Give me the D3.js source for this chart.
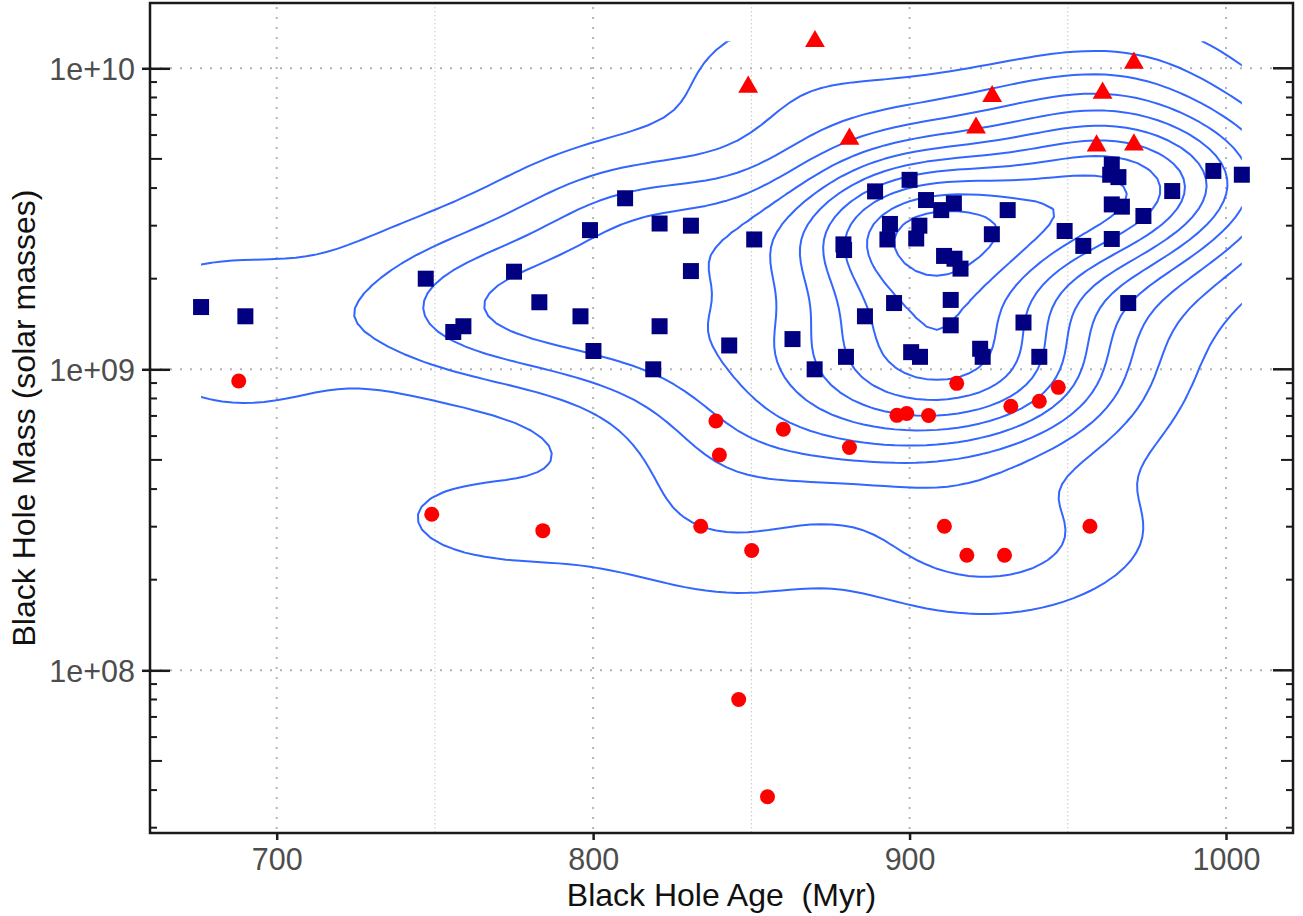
<!DOCTYPE html>
<html>
<head>
<meta charset="utf-8">
<script src="https://cdn.jsdelivr.net/npm/d3@7"></script>
<style>
body { margin: 0; background: #fff; }
text { font-family: "Liberation Sans", Arial, sans-serif; }
</style>
</head>
<body>
<div id="chart"></div>
<script>
var w = 1303;
var h = 916;

// navy squares
var squareAge  = [676.1, 690.1, 747.1, 755.8, 759.0, 775.0, 783.0, 796.0, 799.0, 800.1,
                  810.1, 821.0, 830.9, 830.9, 821.0, 819.0, 843.0, 850.9, 863.0, 870.0,
                  879.1, 879.3, 879.9, 885.9, 889.1, 893.8, 893.0, 895.1, 900.0, 900.5,
                  903.3, 903.1, 902.1, 905.2, 910.0, 914.0, 910.9, 914.2, 916.1, 913.0,
                  913.0, 922.3, 923.1, 926.0, 931.0, 936.0, 941.0, 949.0, 954.9, 963.9,
                  963.4, 966.0, 963.9, 967.1, 973.9, 963.9, 969.1, 983.0, 996.0, 1005.0];
var squareMass = [1.61e9, 1.50e9, 2.00e9, 1.33e9, 1.39e9, 2.11e9, 1.67e9, 1.50e9, 2.90e9, 1.15e9,
                  3.70e9, 3.05e9, 3.00e9, 2.12e9, 1.39e9, 1.00e9, 1.20e9, 2.70e9, 1.26e9, 1.00e9,
                  2.60e9, 2.49e9, 1.10e9, 1.50e9, 3.90e9, 3.04e9, 2.70e9, 1.66e9, 4.26e9, 1.14e9,
                  1.10e9, 3.00e9, 2.72e9, 3.65e9, 3.38e9, 3.56e9, 2.38e9, 2.33e9, 2.16e9, 1.70e9,
                  1.40e9, 1.17e9, 1.10e9, 2.81e9, 3.38e9, 1.43e9, 1.10e9, 2.88e9, 2.57e9, 4.79e9,
                  4.43e9, 4.35e9, 3.53e9, 3.47e9, 3.23e9, 2.71e9, 1.66e9, 3.91e9, 4.56e9, 4.43e9];

// red circles
var circleAge  = [688.0, 749.0, 784.1, 834.0, 850.1, 846.0, 855.1, 838.8, 839.9, 860.1, 881.0,
                  896.0, 899.1, 906.0, 914.9, 932.0, 941.0, 947.0, 911.0, 918.1, 930.0, 957.0];
var circleMass = [9.14e8, 3.30e8, 2.91e8, 3.01e8, 2.50e8, 8.0e7, 3.80e7, 6.73e8, 5.19e8, 6.32e8, 5.50e8,
                  7.03e8, 7.13e8, 7.02e8, 8.98e8, 7.54e8, 7.83e8, 8.71e8, 3.01e8, 2.41e8, 2.41e8, 3.01e8];

// red triangles
var triangleAge  = [870.1, 849.0, 881.0, 926.1, 921.0, 961.0, 970.9, 959.1, 970.9];
var triangleMass = [1.229e10, 8.67e9, 5.82e9, 8.07e9, 6.34e9, 8.28e9, 1.041e10, 5.53e9, 5.57e9];

var xTicks = [700, 800, 900, 1000];
var yTicks = [1e8, 1e9, 1e10];
var yTickLabels = ["1e+08", "1e+09", "1e+10"];
var xMinorGrid = [750, 850, 950];

var plotLeft = 150, plotRight = 1293, plotTop = 3, plotBottom = 833;

var xScale = d3.scaleLinear()
    .domain([659.96, 1021.17])
    .range([plotLeft, plotRight]);

var yScale = d3.scaleLog()
    .domain([Math.pow(10, 7.4595), Math.pow(10, 10.2169)])
    .range([plotBottom, plotTop]);

var svg = d3.select("#chart")
    .append("svg")
    .attr("width", w)
    .attr("height", h);

// grid
svg.append("g").selectAll("line")
    .data(xMinorGrid)
    .enter()
    .append("line")
    .attr("x1", function(d) { return xScale(d); })
    .attr("x2", function(d) { return xScale(d); })
    .attr("y1", plotTop)
    .attr("y2", plotBottom)
    .attr("stroke", "#c8c8c8")
    .attr("stroke-width", 1)
    .attr("stroke-dasharray", "1.5,2.5");

svg.append("g").selectAll("line")
    .data(xTicks)
    .enter()
    .append("line")
    .attr("x1", function(d) { return xScale(d); })
    .attr("x2", function(d) { return xScale(d); })
    .attr("y1", plotTop + 4)
    .attr("y2", plotBottom)
    .attr("stroke", "#b3b3b3")
    .attr("stroke-width", 2)
    .attr("stroke-dasharray", "2,8");

svg.append("g").selectAll("line")
    .data(yTicks)
    .enter()
    .append("line")
    .attr("x1", plotLeft)
    .attr("x2", plotRight)
    .attr("y1", function(d) { return yScale(d); })
    .attr("y2", function(d) { return yScale(d); })
    .attr("stroke", "#b3b3b3")
    .attr("stroke-width", 2)
    .attr("stroke-dasharray", "2,8");

//Density contours (kde2d style, on age and log10 mass)
var allAge = squareAge.concat(circleAge, triangleAge);
var allLog = squareMass.concat(circleMass, triangleMass).map(function(d) { return Math.log10(d); });

function bandwidthNrd(v) {
    var s = v.slice().sort(d3.ascending);
    var iqr = (d3.quantileSorted(s, 0.75) - d3.quantileSorted(s, 0.25)) / 1.34;
    return 4 * 1.06 * Math.min(d3.deviation(v), iqr) * Math.pow(v.length, -0.2);
}

function rPretty(lo, hi, ndiv) {
    var cell = (hi - lo) / ndiv;
    var U = Math.pow(10, Math.floor(Math.log10(cell)));
    var unit = U;
    if (2 * U - cell < 1.5 * (cell - unit)) {
        unit = 2 * U;
        if (5 * U - cell < 2.75 * (cell - unit)) {
            unit = 5 * U;
            if (10 * U - cell < 1.5 * (cell - unit)) unit = 10 * U;
        }
    }
    var a = Math.floor(lo / unit + 1e-7), b = Math.ceil(hi / unit - 1e-7);
    return d3.range(a, b + 1).map(function(k) { return k * unit; });
}

var n = 100;
var hx = bandwidthNrd(allAge) / 4;
var hy = bandwidthNrd(allLog) / 4;
var xExt = d3.extent(allAge), yExt = d3.extent(allLog);
var xStep = (xExt[1] - xExt[0]) / (n - 1), yStep = (yExt[1] - yExt[0]) / (n - 1);
var dnorm = function(t) { return Math.exp(-0.5 * t * t) / Math.sqrt(2 * Math.PI); };

var grid = new Array(n * n);
for (var j = 0; j < n; j++) {
    var gy = yExt[0] + j * yStep;
    for (var i = 0; i < n; i++) {
        var gx = xExt[0] + i * xStep;
        var z = 0;
        for (var k = 0; k < allAge.length; k++) {
            z += dnorm((gx - allAge[k]) / hx) * dnorm((gy - allLog[k]) / hy);
        }
        grid[j * n + i] = z / (allAge.length * hx * hy);
    }
}

var zMin = d3.min(grid), zMax = d3.max(grid);
var levels = rPretty(zMin, zMax, 10).filter(function(d) {
    return d > zMin && d < zMax;
});

var contours = d3.contours().size([n, n]).thresholds(levels)(grid);

var toPixels = d3.geoTransform({
    point: function(cx, cy) {
        this.stream.point(
            xScale(xExt[0] + (cx - 0.5) * xStep),
            yScale(Math.pow(10, yExt[0] + (cy - 0.5) * yStep)));
    }
});

svg.append("clipPath")
    .attr("id", "kde-clip")
    .append("rect")
    .attr("x", xScale(xExt[0]))
    .attr("y", yScale(Math.pow(10, yExt[1])))
    .attr("width", xScale(xExt[1]) - xScale(xExt[0]))
    .attr("height", yScale(Math.pow(10, yExt[0])) - yScale(Math.pow(10, yExt[1])));

svg.append("g")
    .attr("clip-path", "url(#kde-clip)")
    .selectAll("path")
    .data(contours)
    .enter()
    .append("path")
    .attr("d", d3.geoPath(toPixels))
    .attr("fill", "none")
    .attr("stroke", "#3366ff")
    .attr("stroke-width", 2)
    .attr("stroke-linejoin", "round");

//Create points
svg.append("g").selectAll("path")
    .data(d3.range(squareAge.length))
    .enter()
    .append("path")
    .attr("d", d3.symbol(d3.symbolSquare, 256))
    .attr("transform", function(i) {
        return "translate(" + xScale(squareAge[i]) + "," + yScale(squareMass[i]) + ")";
    })
    .attr("fill", "#000080");

svg.append("g").selectAll("circle")
    .data(d3.range(circleAge.length))
    .enter()
    .append("circle")
    .attr("cx", function(i) { return xScale(circleAge[i]); })
    .attr("cy", function(i) { return yScale(circleMass[i]); })
    .attr("r", 7.5)
    .attr("fill", "#ff0000");

svg.append("g").selectAll("path")
    .data(d3.range(triangleAge.length))
    .enter()
    .append("path")
    .attr("d", d3.symbol(d3.symbolTriangle, 170))
    .attr("transform", function(i) {
        return "translate(" + xScale(triangleAge[i]) + "," + yScale(triangleMass[i]) + ")";
    })
    .attr("fill", "#ff0000");

// frame
svg.append("rect")
    .attr("x", plotLeft)
    .attr("y", plotTop)
    .attr("width", plotRight - plotLeft)
    .attr("height", plotBottom - plotTop)
    .attr("fill", "none")
    .attr("stroke", "#1a1a1a")
    .attr("stroke-width", 2.5);

//Axes
var xAxis = svg.append("g")
    .attr("transform", "translate(0," + plotBottom + ")")
    .call(d3.axisBottom(xScale).tickValues(xTicks).tickFormat(d3.format("d"))
        .tickSize(7).tickSizeOuter(0).tickPadding(8));
xAxis.select(".domain").remove();
xAxis.selectAll("line").attr("stroke", "#1a1a1a").attr("stroke-width", 2.5);
xAxis.selectAll("text")
    .attr("font-size", "30.5px")
    .attr("font-family", "Liberation Sans, Arial, sans-serif")
    .attr("fill", "#4d4d4d");

var yAxis = svg.append("g")
    .attr("transform", "translate(" + plotLeft + ",0)")
    .call(d3.axisLeft(yScale).tickValues(yTicks).tickSize(8).tickSizeOuter(0).tickPadding(7)
        .tickFormat(function(d, i) { return yTickLabels[i]; }));
yAxis.select(".domain").remove();
yAxis.selectAll("line").attr("x1", 20).attr("stroke", "#1a1a1a").attr("stroke-width", 2.5);
yAxis.selectAll("text")
    .attr("dy", "0.38em")
    .attr("font-size", "30.5px")
    .attr("font-family", "Liberation Sans, Arial, sans-serif")
    .attr("fill", "#4d4d4d");

// right side major ticks
svg.append("g").selectAll("line")
    .data(yTicks)
    .enter()
    .append("line")
    .attr("x1", plotRight - 20)
    .attr("x2", plotRight)
    .attr("y1", function(d) { return yScale(d); })
    .attr("y2", function(d) { return yScale(d); })
    .attr("stroke", "#1a1a1a")
    .attr("stroke-width", 2.5);

// minor log ticks, both sides
var minorTicks = [];
[7, 8, 9, 10].forEach(function(e) {
    d3.range(2, 10).forEach(function(m) {
        var v = m * Math.pow(10, e);
        if (v > yScale.domain()[0] && v < yScale.domain()[1]) minorTicks.push({v: v, m: m});
    });
});

svg.append("g").selectAll("line")
    .data(minorTicks)
    .enter()
    .append("line")
    .attr("x1", plotLeft)
    .attr("x2", function(d) { return plotLeft + (d.m === 5 ? 12 : 7); })
    .attr("y1", function(d) { return yScale(d.v); })
    .attr("y2", function(d) { return yScale(d.v); })
    .attr("stroke", "#1a1a1a")
    .attr("stroke-width", 2);

svg.append("g").selectAll("line")
    .data(minorTicks)
    .enter()
    .append("line")
    .attr("x1", plotRight)
    .attr("x2", function(d) { return plotRight - (d.m === 5 ? 12 : 7); })
    .attr("y1", function(d) { return yScale(d.v); })
    .attr("y2", function(d) { return yScale(d.v); })
    .attr("stroke", "#1a1a1a")
    .attr("stroke-width", 2);

// axis titles
svg.append("text")
    .attr("x", (plotLeft + plotRight) / 2)
    .attr("y", 906)
    .attr("text-anchor", "middle")
    .attr("font-size", "32px")
    .attr("fill", "#111")
    .style("white-space", "pre")
    .text("Black Hole Age  (Myr)");

svg.append("text")
    .attr("transform", "translate(35," + ((plotTop + plotBottom) / 2) + ") rotate(-90)")
    .attr("text-anchor", "middle")
    .attr("font-size", "32px")
    .attr("fill", "#111")
    .text("Black Hole Mass (solar masses)");
</script>
</body>
</html>
